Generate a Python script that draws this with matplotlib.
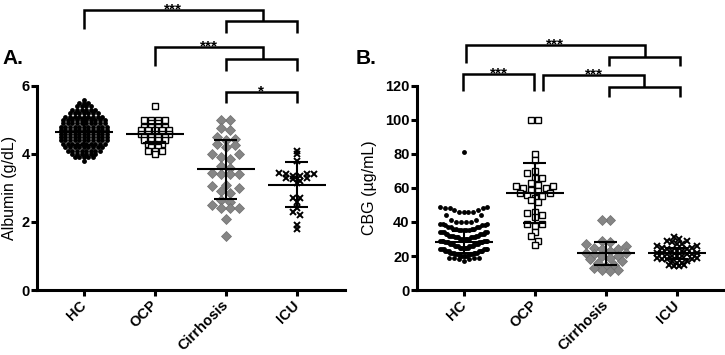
import matplotlib
matplotlib.use('Agg')
import matplotlib.pyplot as plt
import numpy as np

plt.rcParams['font.family'] = ['Liberation Sans', 'DejaVu Sans']

groups = ['HC', 'OCP', 'Cirrhosis', 'ICU']

# ---- panel A: albumin (g/dL) ----
alb_hc_levels = [3.8, 3.9, 4.0, 4.1, 4.2, 4.3, 4.4, 4.5, 4.6, 4.7, 4.8, 4.9, 5.0, 5.1, 5.2, 5.3, 5.4, 5.5, 5.6]
alb_hc_counts = [1, 5, 6, 8, 9, 10, 11, 11, 11, 11, 11, 10, 10, 9, 7, 6, 4, 3, 1]
alb_ocp = [5.4, 5.0, 5.0, 5.0, 5.0, 4.9, 4.9, 4.8, 4.8, 4.8, 4.8, 4.7, 4.7, 4.7, 4.7, 4.7,
           4.6, 4.6, 4.6, 4.6, 4.6, 4.5, 4.5, 4.5, 4.5, 4.4, 4.4, 4.4, 4.4, 4.3, 4.3, 4.3,
           4.2, 4.2, 4.1, 4.1, 4.1, 4.0]
alb_cirr = [5.0, 5.0, 4.75, 4.7, 4.5, 4.45, 4.4, 4.3, 4.25, 4.2, 4.0, 4.0, 3.9, 3.85, 3.65,
            3.6, 3.45, 3.4, 3.4, 3.4, 3.1, 3.05, 3.0, 2.9, 2.85, 2.65, 2.6, 2.5, 2.4, 2.4,
            2.4, 2.1, 1.6]
alb_icu = [4.1, 4.0, 3.8, 3.45, 3.4, 3.4, 3.4, 3.35, 3.35, 3.3, 3.3, 3.25, 3.2, 3.15, 2.7,
           2.7, 2.6, 2.4, 2.3, 2.2, 1.9, 1.8]
alb_mean = [4.65, 4.6, 3.55, 3.1]
alb_sd = [0.40, 0.27, 0.87, 0.65]

# ---- panel B: CBG (ug/mL) ----
cbg_hc_levels = [17, 18, 19, 20, 21, 22, 23, 24, 25, 26, 27, 28, 29, 30, 31, 32, 33, 34, 35,
                 36, 37, 38, 39, 40, 41, 44, 46, 47, 48, 49, 81]
cbg_hc_counts = [1, 2, 4, 5, 6, 6, 6, 6, 6, 6, 6, 6, 6, 6, 6, 5, 5, 5, 5,
                 4, 4, 3, 3, 4, 2, 2, 4, 2, 3, 2, 1]
cbg_ocp = [100, 100, 80, 76.5, 70, 69, 66, 66, 63, 62, 61, 61, 60, 60, 59, 58, 57, 57, 56,
           55, 54, 53, 52, 46, 45, 44, 43, 39, 39, 37.5, 34, 32, 29, 26.5]
cbg_cirr = [41, 41, 29, 28, 27, 26, 25, 24, 24, 23, 22, 22, 21, 20, 20, 19, 18, 17, 16, 15,
            14, 13, 12, 12, 11]
cbg_icu = [31, 30, 29, 29, 28, 27, 27, 26, 26, 25, 25, 24, 24, 23, 23, 23, 22, 22, 22, 21,
           21, 21, 20, 20, 20, 19, 19, 18, 18, 18, 17, 17, 16, 16, 15, 15, 14, 14]
cbg_mean = [28.4, 57.0, 21.6, 21.5]
cbg_sd = [6.5, 17.5, 6.8, 3.5]

alb_hc = np.repeat(alb_hc_levels, alb_hc_counts)
cbg_hc = np.repeat(cbg_hc_levels, cbg_hc_counts)

# marker styles per group
styles = [
    dict(marker='o', ms=3.5, mfc='black', mec='black', mew=0),
    dict(marker='s', ms=4.4, mfc='white', mec='black', mew=1.0),
    dict(marker='D', ms=5.0, mfc='#858585', mec='#6e6e6e', mew=0.5),
    dict(marker='x', ms=4.6, mfc='black', mec='black', mew=1.4),
]


def row_scatter(ax, xc, vals, bin_px, step_px, max_w):
    # prism-like column scatter: points binned into rows, lowest value in the middle
    vals = np.asarray(vals, dtype=float)
    pts = ax.transData.transform(np.column_stack([np.full(len(vals), xc), vals]))
    ys = pts[:, 1]
    x0 = pts[0, 0]
    k = np.floor((ys - ys.min()) / bin_px + 0.5).astype(int)
    xs = np.zeros(len(ys))
    for b in np.unique(k):
        idx = np.where(k == b)[0]
        idx = idx[np.argsort(ys[idx], kind='stable')]
        n = len(idx)
        step = step_px if n < 2 else min(step_px, max_w / (n - 1))
        slots = (np.arange(n) - (n - 1) / 2) * step
        order = sorted(range(n), key=lambda j: (abs(slots[j]), -slots[j]))
        for p, j in zip(idx, order):
            xs[p] = slots[j]
    back = ax.transData.inverted().transform(np.column_stack([xs + x0, ys]))
    return back[:, 0]


def style_axes(ax, ymax, yticks, ylabel):
    ax.set_xlim(-0.66, 3.68)
    ax.set_ylim(0, ymax)
    for s in ['top', 'right']:
        ax.spines[s].set_visible(False)
    for s in ['left', 'bottom']:
        ax.spines[s].set_linewidth(2.2)
    ax.set_yticks(yticks)
    ax.set_xticks(range(4))
    ax.set_xticklabels(groups, rotation=45, ha='right', va='center',
                       rotation_mode='anchor', fontsize=10.5, fontweight='bold')
    ax.tick_params(axis='x', width=2.2, length=4.3, pad=5)
    ax.tick_params(axis='y', width=2.2, length=4.3, pad=1, labelsize=10.5)
    for t in ax.get_yticklabels():
        t.set_fontweight('bold')
    ax.set_ylabel(ylabel, fontsize=11.5)


def plot_group(ax, i, vals, lay, mean, sd):
    xs = row_scatter(ax, i, vals, *lay)
    ax.plot(xs, vals, ls='none', zorder=2, clip_on=False, **styles[i])
    ax.hlines(mean, i - 0.41, i + 0.41, color='black', lw=1.5, zorder=4)
    ax.vlines(i, mean - sd, mean + sd, color='black', lw=1.5, zorder=4)
    ax.hlines([mean - sd, mean + sd], i - 0.16, i + 0.16, color='black', lw=1.5, zorder=4)


def bracket(ax, x1, x2, y, leg1, leg2):
    ax.plot([x1, x1, x2, x2], [y - leg1, y, y, y - leg2], color='black', lw=1.8,
            clip_on=False, solid_capstyle='butt', solid_joinstyle='miter')


def stars(ax, x, y, s):
    ax.annotate(s, (x, y), xytext=(0, -2.5), textcoords='offset points', ha='center',
                va='baseline', fontsize=11, fontweight='bold', annotation_clip=False)


fig = plt.figure(figsize=(7.25, 3.55), dpi=100)
axA = fig.add_axes([0.051, 0.183, 0.425, 0.575])
axB = fig.add_axes([0.575, 0.183, 0.425, 0.575])

style_axes(axA, 6, [0, 2, 4, 6], 'Albumin (g/dL)')
style_axes(axB, 120, [0, 20, 40, 60, 80, 100, 120], 'CBG (\u00b5g/mL)')
axA.yaxis.set_label_coords(-0.066, 0.5)
axB.yaxis.set_label_coords(-0.128, 0.5)

# (row height px, point step px, max row width px)
alb_sets = [alb_hc, alb_ocp, alb_cirr, alb_icu]
alb_lay = [(3.4, 4.6, 46), (3.4, 7.0, 40), (9.0, 9.0, 40), (5.0, 7.0, 40)]
for i in range(4):
    plot_group(axA, i, alb_sets[i], alb_lay[i], alb_mean[i], alb_sd[i])

cbg_sets = [cbg_hc, cbg_ocp, cbg_cirr, cbg_icu]
cbg_lay = [(8.5, 5.0, 47), (7.0, 7.5, 40), (8.0, 8.0, 40), (6.0, 5.0, 42)]
for i in range(4):
    plot_group(axB, i, cbg_sets[i], cbg_lay[i], cbg_mean[i], cbg_sd[i])

# significance brackets, panel A
bracket(axA, 0, 2.52, 8.24, 0.56, 0.33)
bracket(axA, 2.0, 3.0, 7.91, 0.35, 0.35)
stars(axA, 1.26, 8.24, '***')
bracket(axA, 1, 2.52, 7.15, 0.56, 0.36)
bracket(axA, 2.0, 3.0, 6.79, 0.35, 0.35)
stars(axA, 1.76, 7.15, '***')
bracket(axA, 2.0, 3.0, 5.82, 0.32, 0.32)
stars(axA, 2.5, 5.82, '*')

# significance brackets, panel B
bracket(axB, 0.03, 2.55, 144, 10.5, 7)
bracket(axB, 2.04, 3.05, 137, 5.2, 5.2)
stars(axB, 1.29, 144, '***')
bracket(axB, -0.01, 0.99, 127, 10, 10)
stars(axB, 0.49, 127, '***')
bracket(axB, 1.11, 2.54, 126.5, 9.5, 7.1)
bracket(axB, 2.04, 3.05, 119.4, 5.9, 5.9)
stars(axB, 1.83, 126.5, '***')

fig.text(0.003, 0.82, 'A.', fontsize=15, fontweight='bold', va='baseline')
fig.text(0.491, 0.82, 'B.', fontsize=15, fontweight='bold', va='baseline')

fig.savefig('out.png', dpi=100)
